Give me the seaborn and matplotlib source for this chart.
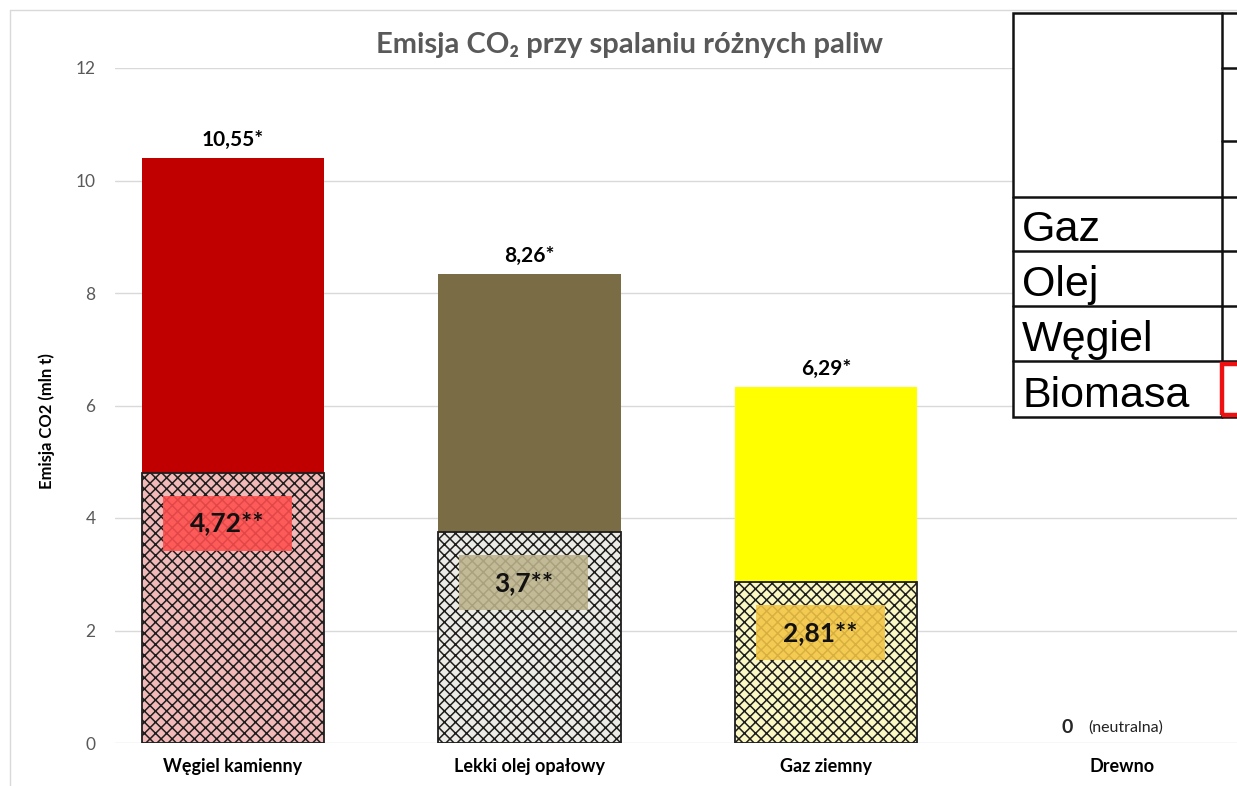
import matplotlib
matplotlib.use("Agg")
import matplotlib.pyplot as plt
from matplotlib.patches import Rectangle
from matplotlib.lines import Line2D
import seaborn as sns
import pandas as pd

# ---------------- data ----------------
categories = ["Węgiel kamienny", "Lekki olej opałowy", "Gaz ziemny", "Drewno"]
total_emission = [10.40, 8.33, 6.33, 0.0]      # drawn bar heights
hatched_emission = [4.80, 3.75, 2.86, 0.0]     # hatched lower part
total_labels = ["10,55*", "8,26*", "6,29*", ""]
hatched_labels = ["4,72**", "3,7**", "2,81**", ""]
top_colors = ["#c00000", "#7a6d46", "#ffff00", "#ffffff"]
hatch_fill = ["#f2b9b9", "#ecebe6", "#fbf8c4", "#ffffff"]
box_colors = ["#ff4d4d", "#bdb48c", "#f3c544", "#ffffff"]
yticks = [0, 2, 4, 6, 8, 10, 12]
table_rows = ["Gaz", "Olej", "Węgiel", "Biomasa"]

df = pd.DataFrame({"paliwo": categories, "total": total_emission,
                   "hatched": hatched_emission})

# ---------------- style ----------------
sns.set_theme(style="white")
plt.rcParams["font.family"] = ["Lato", "DejaVu Sans"]
plt.rcParams["hatch.linewidth"] = 1.1

W, H = 1237, 786
fig = plt.figure(figsize=(W / 100, H / 100), dpi=100)
fig.patch.set_facecolor("white")

def fx(x):
    return x / W

def fy(y):
    return 1 - y / H

ax = fig.add_axes([fx(115), fy(743), fx(1237) - fx(115), fy(68) - fy(743)])

bar_w = 0.614
sns.barplot(data=df, x="paliwo", y="total", hue="paliwo", palette=top_colors,
            saturation=1, width=bar_w, legend=False, ax=ax, linewidth=0,
            errorbar=None)
n_top = len(ax.patches)
sns.barplot(data=df, x="paliwo", y="hatched", hue="paliwo", palette=hatch_fill,
            saturation=1, width=bar_w, legend=False, ax=ax, edgecolor="black",
            linewidth=1.3, errorbar=None)
for p in ax.patches[n_top:]:
    p.set_hatch("xxx")
    p.set_edgecolor("#1e1e1e")
    if p.get_height() == 0:
        p.set_visible(False)

ax.set_xlim(-0.398, 3.386)
ax.set_ylim(0, 12)
ax.set_yticks(yticks)
ax.set_yticklabels([str(t) for t in yticks], color="#595959", fontsize=12.5)
ax.yaxis.grid(True, color="#d9d9d9", linewidth=1)
ax.set_axisbelow(True)
for s in ax.spines.values():
    s.set_visible(False)
ax.tick_params(axis="both", length=0)
ax.tick_params(axis="y", pad=14)
ax.tick_params(axis="x", pad=11)
ax.set_xlabel("")
ax.set_ylabel("")
for lab in ax.get_xticklabels():
    lab.set_fontweight("bold")
    lab.set_fontsize(13)
    lab.set_color("black")

# value labels above bars
for i, (v, lab) in enumerate(zip(total_emission, total_labels)):
    if lab:
        ax.annotate(lab, (i, v), xytext=(0, 6), textcoords="offset points",
                    ha="center", va="bottom", fontsize=15, fontweight="bold",
                    color="black")

# labels inside hatched parts
box_w, box_h = 0.435, 0.97
for i, (v, lab) in enumerate(zip(hatched_emission, hatched_labels)):
    if lab:
        cx, cy = i - 0.02, v - 0.9
        ax.add_patch(Rectangle((cx - box_w / 2, cy - box_h / 2), box_w, box_h,
                               facecolor=box_colors[i], edgecolor="none",
                               alpha=0.88, zorder=5))
        ax.text(cx, cy, lab, ha="center", va="center", fontsize=19,
                fontweight="bold", color="#111111", zorder=6)

# wood: zero emission
ax.annotate("0", (3, 0), xytext=(-36, 11), textcoords="offset points",
            ha="right", va="center", fontsize=14, fontweight="bold")
ax.annotate("(neutralna)", (3, 0), xytext=(-25, 11), textcoords="offset points",
            ha="left", va="center", fontsize=11.5, color="#222222")

# title & y label
fig.text(fx(630), fy(45), "Emisja CO\u2082 przy spalaniu różnych paliw",
         ha="center", va="center", fontsize=21, fontweight="bold",
         color="#595959", family=["Lato", "DejaVu Sans"])
fig.text(fx(47), fy(421), "Emisja CO2 (mln t)", rotation=90, ha="center",
         va="center", fontsize=12, fontweight="bold", color="black")

# chart frame
fig.add_artist(Line2D([fx(10), fx(10)], [fy(10), fy(800)], color="#d9d9d9",
                      lw=1, transform=fig.transFigure))
fig.add_artist(Line2D([fx(10), fx(1250)], [fy(10), fy(10)], color="#d9d9d9",
                      lw=1, transform=fig.transFigure))

# overlapping table (cropped at the right)
t_left, t_top, t_bot, col = 1013, 13, 417, 1222
fig.add_artist(Rectangle((fx(t_left), fy(t_bot)), fx(1260) - fx(t_left),
                         fy(t_top) - fy(t_bot), transform=fig.transFigure,
                         facecolor="white", edgecolor="#111111", lw=1.8,
                         zorder=3))
row_lines = [197, 251, 306, 361]
for y in row_lines:
    fig.add_artist(Line2D([fx(t_left), fx(1260)], [fy(y), fy(y)],
                          color="#111111", lw=1.8, transform=fig.transFigure,
                          zorder=4))
for y in [68, 141]:
    fig.add_artist(Line2D([fx(col), fx(1260)], [fy(y), fy(y)],
                          color="#111111", lw=1.8, transform=fig.transFigure,
                          zorder=4))
fig.add_artist(Line2D([fx(col), fx(col)], [fy(t_top), fy(t_bot)],
                      color="#111111", lw=1.8, transform=fig.transFigure,
                      zorder=4))
fig.add_artist(Rectangle((fx(1222), fy(415)), fx(1260) - fx(1222),
                         fy(364) - fy(415), transform=fig.transFigure,
                         facecolor="none", edgecolor="#ee1111", lw=3.2,
                         zorder=5))
bottoms = [251, 306, 361, 417]
for name, b in zip(table_rows, bottoms):
    fig.text(fx(1022), fy(b - 10), name, ha="left", va="baseline",
             fontsize=31, family="Liberation Sans", color="black", zorder=6)

fig.savefig("out.png", dpi=100, facecolor="white")
